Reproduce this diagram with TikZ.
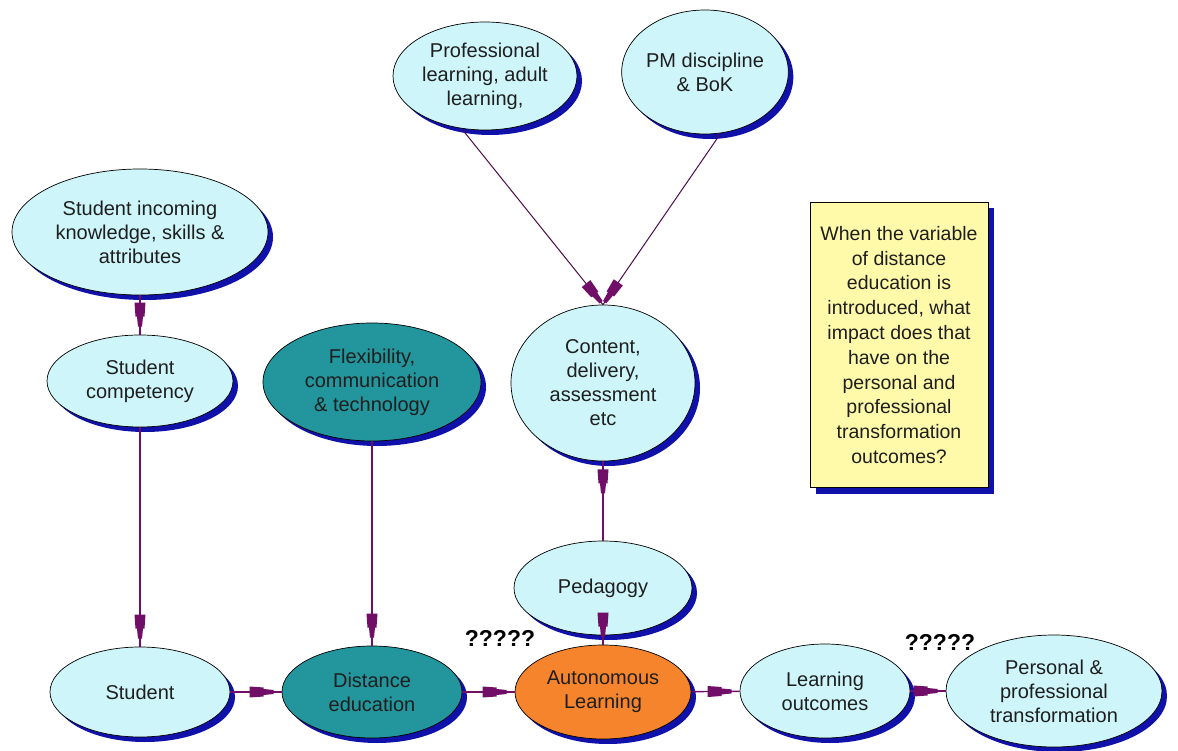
\documentclass[tikz,border=0pt]{standalone}
\usepackage{fontspec}
\setmainfont{Liberation Sans}
\usetikzlibrary{shapes.geometric,decorations.markings,shadows}
\definecolor{lblue}{RGB}{206,246,250}
\definecolor{teal2}{RGB}{34,150,156}
\definecolor{orng}{RGB}{246,132,44}
\definecolor{shblue}{RGB}{16,16,170}
\definecolor{purp}{RGB}{112,14,104}
\definecolor{ylw}{RGB}{255,250,170}
\definecolor{txt}{RGB}{30,30,30}
\newcommand{\mytiphead}{\fill[purp] (-24pt,-5.5pt) -- (-10pt,-4.5pt) -- (-10pt,-3pt) -- (0pt,-2pt) -- (0pt,2pt) -- (-10pt,3pt) -- (-10pt,4.5pt) -- (-24pt,5.5pt) -- cycle;}
\tikzset{
  bubble/.style={ellipse, draw=black, line width=0.7pt, fill=lblue, inner sep=0pt,
    align=center, text=txt, font=\fontsize{20}{24}\selectfont,
    drop shadow={shadow xshift=5pt, shadow yshift=-5pt, fill=shblue, opacity=1}},
  tealb/.style={bubble, fill=teal2},
  orangeb/.style={bubble, fill=orng},
  flow/.style={draw=purp, line width=1.4pt, postaction={decorate},
    decoration={markings, mark=at position -8pt with {\mytiphead}}},
  flowearly/.style={draw=purp, line width=1.4pt, postaction={decorate},
    decoration={markings, mark=at position 32pt with {\mytiphead}}},
  thinflow/.style={draw=purp!70!black, line width=1pt, postaction={decorate},
    decoration={markings, mark=at position -3pt with {\mytiphead}}},
  qmark/.style={font=\fontsize{23}{23}\selectfont\bfseries, text=black, inner sep=0pt},
  notebox/.style={rectangle, draw=black, line width=0.8pt, fill=ylw, align=center,
    text=txt, font=\fontsize{19.5}{24.8}\selectfont, minimum width=178pt, minimum height=285pt,
    inner sep=1pt,
    drop shadow={shadow xshift=6pt, shadow yshift=-6pt, fill=shblue, opacity=1}}
}
\begin{document}
\begin{tikzpicture}[x=1pt,y=-1pt]
\useasboundingbox[fill=white] (0,0) rectangle (1178,751);
% nodes
\node[bubble, minimum width=256pt, minimum height=126pt] (inc) at (140,232) {Student incoming\\knowledge, skills \&\\attributes};
\node[bubble, minimum width=186pt, minimum height=92pt] (comp) at (140,381) {Student\\competency};
\node[bubble, minimum width=180pt, minimum height=90pt] (stu) at (140,692) {Student};
\node[tealb, minimum width=218pt, minimum height=118pt] (flex) at (372,382) {Flexibility,\\communication\\\& technology};
\node[tealb, minimum width=180pt, minimum height=92pt] (dist) at (372,692) {Distance\\education};
\node[orangeb, minimum width=176pt, minimum height=94pt] (auto) at (603,692) {Autonomous\\Learning};
\node[bubble, minimum width=170pt, minimum height=94pt] (lo) at (825,691) {Learning\\outcomes};
\node[bubble, minimum width=216pt, minimum height=112pt] (pers) at (1054,691) {Personal \&\\professional\\transformation};
\node[bubble, minimum width=178pt, minimum height=94pt] (ped) at (603,588) {Pedagogy};
\node[bubble, minimum width=184pt, minimum height=156pt] (cont) at (603,383) {Content,\\delivery,\\assessment\\etc};
\node[bubble, minimum width=184pt, minimum height=108pt] (prof) at (485,76) {Professional\\learning, adult\\learning,};
\node[bubble, minimum width=138pt, minimum height=124pt] (pm) at (705,72) {PM discipline\\\& BoK};
\node[notebox] (note) at (899,345) {When the variable\\of distance\\education is\\introduced, what\\impact does that\\have on the\\personal and\\professional\\transformation\\outcomes?};
\node[qmark] (q1) at (500,638) {?????};
\node[qmark] (q2) at (940,642) {?????};
% connectors
\draw[flow] (inc) -- (comp);
\draw[flow] (comp) -- (stu);
\draw[flow] (flex) -- (dist);
\draw[flow] (stu) -- (dist);
\draw[flow] (dist) -- (auto);
\draw[flow] (auto) -- (lo);
\draw[flow] (lo) -- (pers);
\draw[flow] (ped) -- (auto);
\draw[flowearly] (cont) -- (ped);
\draw[thinflow] (prof.south) ++(-22pt,0) coordinate (ps) (ps) -- (cont.north);
\draw[thinflow] (pm.south) ++(15pt,0) coordinate (pms) (pms) -- (cont.north);
\end{tikzpicture}
\end{document}
